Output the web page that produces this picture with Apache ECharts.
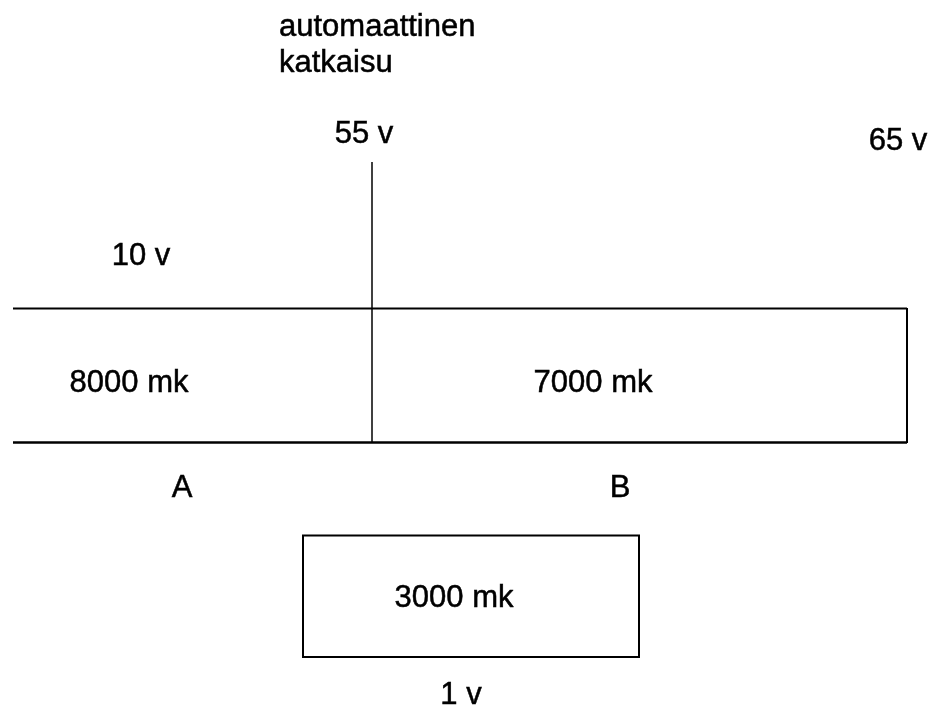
<!DOCTYPE html>
<html>
<head>
<meta charset="utf-8">
<script src="https://cdn.jsdelivr.net/npm/echarts@6/dist/echarts.min.js"></script>
<style>
html,body{margin:0;padding:0;background:#fff;}
#c{width:937px;height:708px;}
</style>
</head>
<body>
<div id="c"></div>
<script>
// Text content of the diagram
const labelTexts = ['automaattinen', 'katkaisu', '55 v', '65 v', '10 v', '8000 mk', '7000 mk', 'A', 'B', '3000 mk', '1 v'];
// Label anchor positions in diagram units (x, y), alignment
const labelPos = [[279, 27], [279, 63], [364, 134.5], [898, 141], [141, 256.5], [129, 383.5], [593, 383.5], [182, 488.5], [620, 488.5], [454, 598], [461, 695]];
const labelAlign = ['left', 'left', 'center', 'center', 'center', 'center', 'center', 'center', 'center', 'center', 'center'];
// Line segments of the diagram (x1, y1, x2, y2) in diagram units
const segments = [[13, 308.5, 907, 308.5], [13, 442.5, 907, 442.5], [907, 308, 907, 443], [372, 162, 372, 443]];
const segmentWidths = [2, 2.5, 2, 1.5];
// Boxes (x1, y1, x2, y2)
const boxes = [[303, 535.5, 639, 657]];

const chart = echarts.init(document.getElementById('c'), null, {renderer: 'canvas'});
const font = '"Liberation Sans", Arial, sans-serif';

chart.setOption({
  backgroundColor: '#fff',
  animation: false,
  grid: {left: 0, right: 0, top: 0, bottom: 0},
  xAxis: {type: 'value', min: 0, max: 937, show: false},
  yAxis: {type: 'value', min: 0, max: 708, inverse: true, show: false},
  series: [
    {
      type: 'custom',
      data: segments.map((s, i) => s.concat([segmentWidths[i]])),
      renderItem: function (params, api) {
        const p1 = api.coord([api.value(0), api.value(1)]);
        const p2 = api.coord([api.value(2), api.value(3)]);
        return {
          type: 'line',
          shape: {x1: p1[0], y1: p1[1], x2: p2[0], y2: p2[1]},
          style: {stroke: '#000', lineWidth: api.value(4)}
        };
      }
    },
    {
      type: 'custom',
      data: boxes,
      renderItem: function (params, api) {
        const p1 = api.coord([api.value(0), api.value(1)]);
        const p2 = api.coord([api.value(2), api.value(3)]);
        return {
          type: 'rect',
          shape: {x: p1[0], y: p1[1], width: p2[0] - p1[0], height: p2[1] - p1[1]},
          style: {stroke: '#000', fill: 'none', lineWidth: 2}
        };
      }
    },
    {
      type: 'custom',
      silent: true,
      data: labelPos.map((p, i) => [p[0], p[1], i]),
      renderItem: function (params, api) {
        const i = api.value(2);
        const p = api.coord([api.value(0), api.value(1)]);
        return {
          type: 'text',
          x: p[0],
          y: p[1],
          style: {
            text: labelTexts[i],
            fill: '#000',
            stroke: '#000',
            lineWidth: 0.5,
            align: labelAlign[i],
            verticalAlign: 'middle',
            font: '31px ' + font
          }
        };
      }
    }
  ]
});
</script>
</body>
</html>
